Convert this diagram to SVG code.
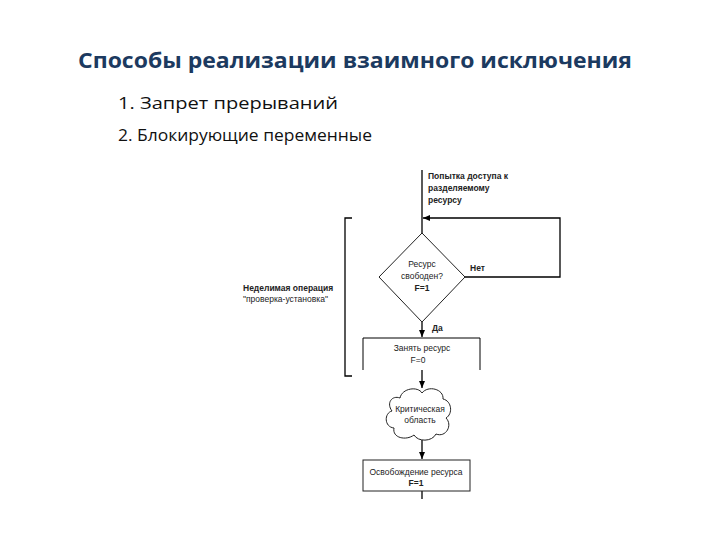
<svg xmlns="http://www.w3.org/2000/svg" width="720" height="540" viewBox="0 0 720 540">
<defs>
<marker id="ah" markerWidth="8" markerHeight="8" refX="7" refY="4" orient="auto" markerUnits="userSpaceOnUse">
<path d="M0,1 L7,4 L0,7 Z" fill="#000"/>
</marker>
<style>
.t{font-family:"Liberation Sans",Arial,sans-serif;font-size:8.5px;fill:#222}
.b{font-weight:bold}
.ln{stroke:#000;stroke-width:1.3;fill:none}
.sh{stroke:#222;stroke-width:1;fill:#fff}
.li{font-family:"Open Sans","Liberation Sans",sans-serif;font-size:16.5px;fill:#111}
</style>
</defs>
<rect width="720" height="540" fill="#fff"/>
<text x="78" y="68" font-family="'Open Sans','Liberation Sans',sans-serif" font-size="21" font-weight="bold" fill="#1c3a60" textLength="554" lengthAdjust="spacingAndGlyphs">Способы реализации взаимного исключения</text>
<text class="li" x="118" y="109" textLength="220" lengthAdjust="spacingAndGlyphs">1. Запрет прерываний</text>
<text class="li" x="118" y="141" textLength="254" lengthAdjust="spacingAndGlyphs">2. Блокирующие переменные</text>

<g id="connectors">
<line class="ln" x1="422" y1="170" x2="422" y2="233"/>
<polyline class="ln" points="465,277 560,277 560,218 423,218" marker-end="url(#ah)"/>
<line class="ln" x1="422" y1="322" x2="422" y2="337" marker-end="url(#ah)"/>
<line class="ln" x1="422" y1="370" x2="422" y2="388" marker-end="url(#ah)"/>
<line class="ln" x1="422" y1="440" x2="422" y2="459" marker-end="url(#ah)"/>
<line class="ln" x1="422" y1="491" x2="422" y2="499"/>
<polyline class="ln" points="352,218 345,218 345,376 352,376"/>
</g>

<g id="start">
<text class="t b" x="428" y="179">Попытка доступа к</text>
<text class="t b" x="428" y="191">разделяемому</text>
<text class="t b" x="428" y="203">ресурсу</text>
</g>

<g id="atomic-label">
<text class="t b" x="243" y="291">Неделимая операция</text>
<text class="t" x="243" y="302">"проверка-установка"</text>
</g>

<g id="decision">
<polygon class="sh" points="422,233 465,277 422,322 379,277"/>
<text class="t" x="422" y="267" text-anchor="middle">Ресурс</text>
<text class="t" x="422" y="279" text-anchor="middle">свободен?</text>
<text class="t b" x="422" y="291" text-anchor="middle">F=1</text>
<text class="t b" x="470" y="271">Нет</text>
<text class="t b" x="432" y="331">Да</text>
</g>

<g id="take">
<polyline class="ln" style="stroke-width:1" points="363,370 363,338 480,338 480,370"/>
<text class="t" x="422" y="351" text-anchor="middle">Занять ресурс</text>
<text class="t" x="418" y="363" text-anchor="middle">F=0</text>
</g>

<g id="critical">
<path class="sh" d="M400,398 C402,388 418,386 422,393 C428,385 444,389 443,399 C452,401 453,414 446,418 C453,425 446,438 436,434 C432,442 418,442 414,435 C406,441 392,438 394,428 C384,427 384,413 392,411 C386,403 392,395 400,398 Z"/>
<text class="t" x="420" y="412" text-anchor="middle">Критическая</text>
<text class="t" x="420" y="423" text-anchor="middle">область</text>
</g>

<g id="release">
<rect class="sh" x="363" y="460" width="107" height="31"/>
<text class="t" x="416" y="475" text-anchor="middle">Освобождение ресурса</text>
<text class="t b" x="416" y="486" text-anchor="middle">F=1</text>
</g>
</svg>
